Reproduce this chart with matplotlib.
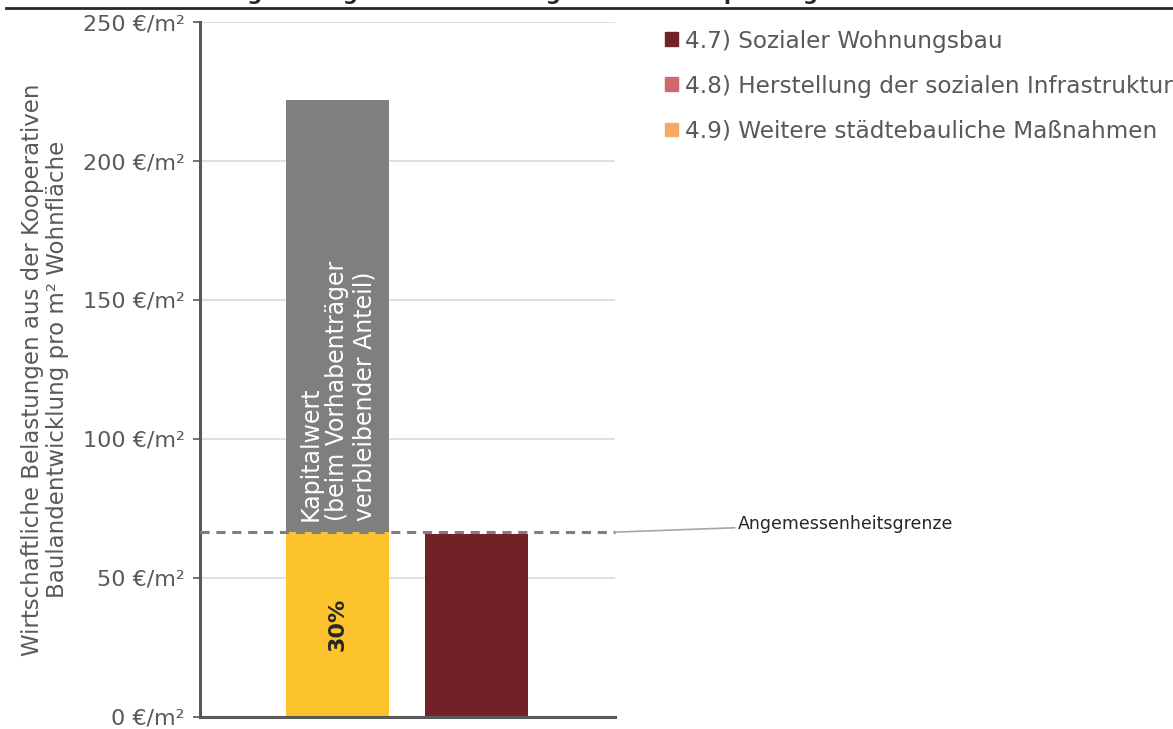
import matplotlib.pyplot as plt

# data
bars = ['Variante', 'Sozialer Wohnungsbau']
anteil_30 = [66.5, 0]           # yellow, 30 % share
kapitalwert = [155.5, 0]        # gray, remaining share on top
sozial = [0, 66.0]              # dark red bar
grenze = 66.5                   # Angemessenheitsgrenze

legend_labels = ['4.7) Sozialer Wohnungsbau',
                 '4.8) Herstellung der sozialen Infrastruktur',
                 '4.9) Weitere städtebauliche Maßnahmen']
legend_colors = ['#722226', '#D0686B', '#F5A962']
yticks = [0, 50, 100, 150, 200, 250]

plt.rcParams['font.family'] = ['DejaVu Sans']
txt = '#595959'

fig = plt.figure(figsize=(11.73, 7.29), dpi=100)
ax = fig.add_axes([0.1705, 0.0165, 0.354, 0.9533])

x = [0, 1]
w = 0.74
ax.bar(x, anteil_30, width=w, color='#FCC32C', zorder=2)
ax.bar(x, kapitalwert, width=w, bottom=anteil_30, color='#7F7F7F', zorder=2)
ax.bar(x, sozial, width=w, color='#722226', zorder=2)

ax.axhline(grenze, color='#7F7F7F', lw=2.2, ls=(0, (3, 2.2)), zorder=3, clip_on=False)

ax.set_xlim(-0.99, 2.0)
ax.set_ylim(0, 250)
ax.set_yticks(yticks)
ax.set_yticklabels([f'{v} €/m²' for v in yticks], fontsize=16, color=txt)
ax.set_xticks([])
ax.grid(axis='y', color='#D9D9D9', lw=1.2, zorder=0)
ax.tick_params(axis='y', length=5, width=1.2, color='#595959', pad=6)
for s in ['top', 'right']:
    ax.spines[s].set_visible(False)
ax.spines['left'].set_color('#595959')
ax.spines['left'].set_linewidth(2.2)
ax.spines['bottom'].set_color('#595959')
ax.spines['bottom'].set_linewidth(2.2)

ax.set_ylabel('Wirtschaftliche Belastungen aus der Kooperativen\n'
              'Baulandentwicklung pro m² Wohnfläche', fontsize=16.5, color=txt,
              labelpad=10, linespacing=1.1)

ax.text(0.0, grenze + 4, 'Kapitalwert\n(beim Vorhabenträger\nverbleibender Anteil)',
        rotation=90, color='white', fontsize=17, ha='center', va='bottom',
        multialignment='left', linespacing=1.15, zorder=4)
ax.text(0, grenze / 2, '30%', rotation=90, color='#262626', fontsize=16,
        fontweight='bold', ha='center', va='center', zorder=4)

ax.annotate('Angemessenheitsgrenze', xy=(2.0, grenze), xytext=(2.88, 69.5),
            xycoords='data', textcoords='data', fontsize=12.5, color='#262626',
            va='center', annotation_clip=False,
            arrowprops=dict(arrowstyle='-', color='#A6A6A6', lw=1.2,
                            shrinkA=0, shrinkB=0))

# legend
handles = [plt.Rectangle((0, 0), 1, 1, color=c) for c in legend_colors]
leg = fig.legend(handles, legend_labels, loc='upper left',
                 bbox_to_anchor=(0.549, 0.988), frameon=False, fontsize=16.7,
                 handlelength=0.55, handleheight=0.55, handletextpad=0.3,
                 labelspacing=0.95, labelcolor=txt)

# cut-off title and rule at top
fig.text(0.005, 0.994, 'Grafische Darstellung des Ergebnisses der Angemessenheitsprüfung',
         fontsize=15, color='#262626', va='bottom', fontweight='bold')
fig.add_artist(plt.Line2D([0.005, 1.0], [0.989, 0.989], color='#262626', lw=2))

fig.savefig('out.png', dpi=100)
